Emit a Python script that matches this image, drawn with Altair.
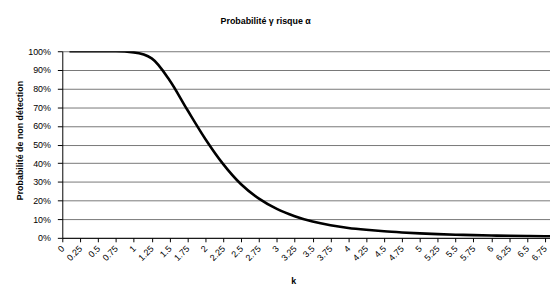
import altair as alt
import pandas as pd

# Curve: k -> probability of non detection
k_values = [0.1, 0.25, 0.5, 0.75, 1.0, 1.25, 1.5, 1.75, 2.0, 2.25, 2.5, 2.75,
            3.0, 3.25, 3.5, 3.75, 4.0, 4.25, 4.5, 4.75, 5.0, 5.25, 5.5, 5.75,
            6.0, 6.25, 6.5, 6.75, 7.0]
p_values = [1.0, 1.0, 1.0, 1.0, 0.994, 0.962, 0.845, 0.685, 0.53, 0.395, 0.287, 0.21,
            0.155, 0.116, 0.087, 0.067, 0.053, 0.043, 0.035, 0.029, 0.024, 0.020, 0.017, 0.0145,
            0.0125, 0.011, 0.0097, 0.0087, 0.0078]

x_ticks = [0, 0.25, 0.5, 0.75, 1, 1.25, 1.5, 1.75, 2, 2.25, 2.5, 2.75, 3, 3.25,
           3.5, 3.75, 4, 4.25, 4.5, 4.75, 5, 5.25, 5.5, 5.75, 6, 6.25, 6.5, 6.75]
y_ticks = [0, 0.1, 0.2, 0.3, 0.4, 0.5, 0.6, 0.7, 0.8, 0.9, 1.0]

title_text = "Probabilité γ risque α"
x_title = "k"
y_title = "Probabilité de non détection"

df = pd.DataFrame({"k": k_values, "p": p_values})

FONT = "Liberation Sans"

chart = alt.Chart(df).mark_line(
    color="black", strokeWidth=2.6, interpolate="monotone", clip=True
).encode(
    x=alt.X("k:Q",
            scale=alt.Scale(domain=[0, 6.82], nice=False, zero=False),
            axis=alt.Axis(values=x_ticks, labelExpr="'' + datum.value",
                          labelAngle=-45, labelAlign="right", labelBaseline="middle",
                          labelPadding=5, tickSize=4, grid=False,
                          domainColor="black", tickColor="black",
                          labelFont=FONT, labelFontSize=9, labelColor="black",
                          labelOverlap=False, labelFlush=False,
                          title=x_title, titleFont=FONT, titleFontSize=9,
                          titleFontWeight="bold", titleColor="black",
                          titleX=234, titleY=46, titleAlign="center",
                          titleBaseline="alphabetic")),
    y=alt.Y("p:Q",
            scale=alt.Scale(domain=[0, 1], nice=False),
            axis=alt.Axis(values=y_ticks, format=".0%",
                          tickSize=5, labelPadding=7, grid=True,
                          gridColor="#777777", gridWidth=1,
                          domainColor="black", tickColor="black",
                          labelFont=FONT, labelFontSize=9, labelColor="black",
                          title=y_title, titleFont=FONT, titleFontSize=9,
                          titleFontWeight="bold", titleColor="black",
                          titleX=-43, titleY=90, titleAngle=270,
                          titleAlign="center", titleBaseline="middle")),
).properties(
    width=494,
    height=189,
    padding={"left": 55, "top": 42, "right": 0, "bottom": 50},
    autosize=alt.AutoSizeParams(type="none"),
    title=alt.TitleParams(title_text, font=FONT, fontSize=9, fontWeight="bold",
                          color="black", anchor="middle", frame="group",
                          dx=-41, dy=13, offset=28, baseline="alphabetic"),
).configure_view(stroke=None)

chart.save("out.html", embed_options={"renderer": "svg", "actions": False})
